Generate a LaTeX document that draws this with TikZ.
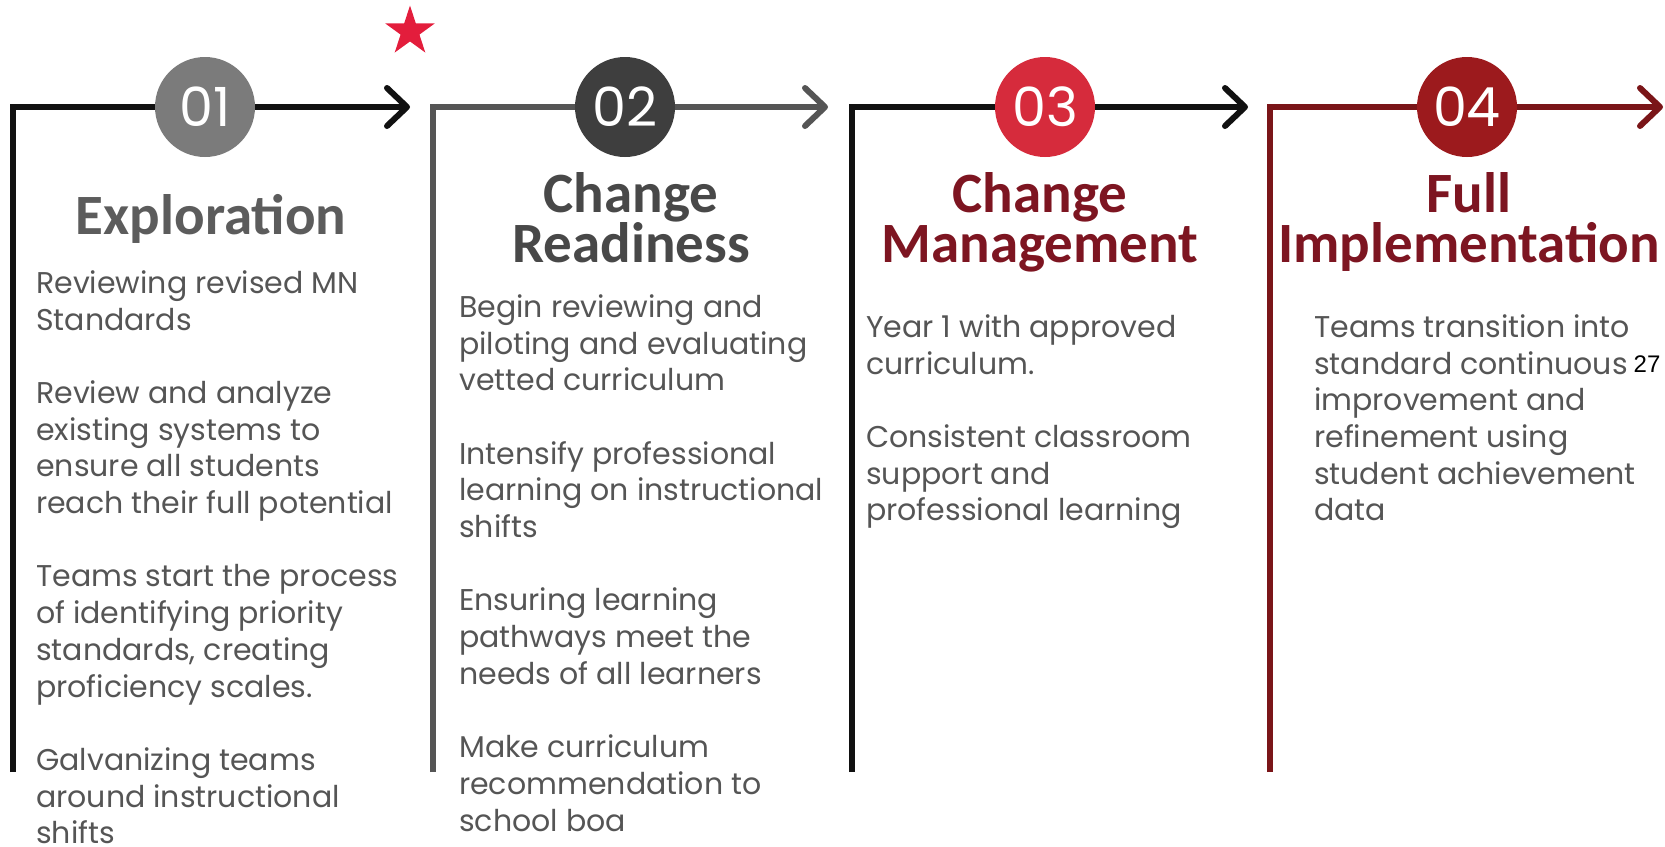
\documentclass[tikz,border=0pt]{standalone}
\usepackage{fontspec}
\setmainfont{Poppins}
\newfontfamily\headfont{Carlito}
\newfontfamily\pagefont{Liberation Sans}
\usetikzlibrary{arrows.meta,shapes.geometric}

\definecolor{lineA}{HTML}{111111}
\definecolor{lineB}{HTML}{555555}
\definecolor{lineC}{HTML}{111111}
\definecolor{lineD}{HTML}{7A1518}
\definecolor{circA}{HTML}{7B7B7B}
\definecolor{circB}{HTML}{3E3E3E}
\definecolor{circC}{HTML}{D62B3C}
\definecolor{circD}{HTML}{9C1A1D}
\definecolor{headA}{HTML}{5C5C5C}
\definecolor{headB}{HTML}{484848}
\definecolor{headC}{HTML}{7D1521}
\definecolor{bodygray}{HTML}{555555}
\definecolor{starred}{HTML}{E31D3C}

\tikzset{
  panel/.style={line width=6pt},
  barb/.style={-{Straight Barb[length=20pt,width=38pt,round]}},
  stagenum/.style={circle,minimum size=100pt,inner sep=0pt,text=white,
    font=\fontsize{54}{54}\selectfont},
  heading/.style={font=\headfont\bfseries\fontsize{57}{50}\selectfont,
    align=center,anchor=base,inner sep=0pt},
  bodytext/.style={font=\fontsize{30}{36.7}\selectfont,text=bodygray,
    align=left,anchor=north west,inner sep=0pt,execute at begin node=\strut}
}

\begin{document}
\begin{tikzpicture}[x=1pt,y=-1pt]
\useasboundingbox (0,0) rectangle (1665,846);

    \foreach \i/\x/\cx/\tx/\lc/\cc in {1/13/205/410/lineA/circA,
                                       2/433/625/828/lineB/circB,
                                       3/852/1045/1248/lineC/circC,
                                       4/1270/1467/1663/lineD/circD} {
        \coordinate (bot\i) at (\x,772);
        \coordinate (top\i) at (\x,107);
        \coordinate (tip\i) at (\tx,107);
        \node[stagenum,fill=\cc] (num\i) at (\cx,107) {0\i};
        \draw[panel,\lc] (bot\i) -- (top\i) -- (num\i);
        \draw[panel,barb,\lc] (num\i) -- (tip\i);
    }

    \node[star,star points=5,star point ratio=2.618,fill=starred,
          minimum size=52pt,inner sep=0pt] (redstar) at (410,31.5) {};

    % headings: base is the last line
    \node[heading,text=headA] (head1) at (211,234) {Exploration};
    \node[heading,text=headB] (head2) at (631,262) {Change\\Readiness};
    \node[heading,text=headC] (head3) at (1040,262) {Change\\Management};
    \node[heading,text=headC] (head4) at (1469,262) {Full\\Implementation};

    % strut height 25.7 above first baseline
    \node[bodytext] (body1) at (36,296-25.7) {Reviewing revised MN\\Standards\\[36.7pt]
        Review and analyze\\existing systems to\\ensure all students\\reach their full potential\\[36.7pt]
        Teams start the process\\of identifying priority\\standards, creating\\proficiency scales.\\[36.7pt]
        Galvanizing teams\\around instructional\\shifts};
    \node[bodytext] (body2) at (459,320-25.7) {Begin reviewing and\\piloting and evaluating\\vetted curriculum\\[36.7pt]
        Intensify professional\\learning on instructional\\shifts\\[36.7pt]
        Ensuring learning\\pathways meet the\\needs of all learners\\[36.7pt]
        Make curriculum\\recommendation to\\school boa};
    \node[bodytext] (body3) at (866,340-25.7) {Year 1 with approved\\curriculum.\\[36.7pt]
        Consistent classroom\\support and\\professional learning};
    \node[bodytext] (body4) at (1314,340-25.7) {Teams transition into\\standard continuous\\improvement and\\refinement using\\student achievement\\data};

    \node[font=\pagefont\fontsize{24}{24}\selectfont,anchor=base,inner sep=0pt] (pagenum) at (1647,372) {27};

\end{tikzpicture}
\end{document}
